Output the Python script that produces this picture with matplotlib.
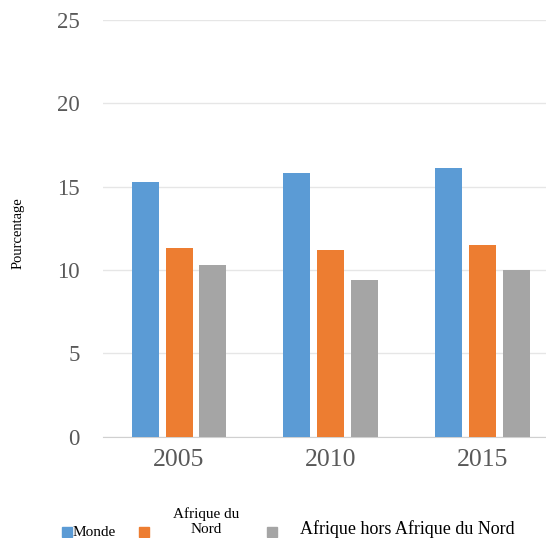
import numpy as np
import matplotlib.pyplot as plt
import matplotlib.patches as patches

# data
years = ['2005', '2010', '2015']
series_names = ['Monde', 'Afrique du\nNord', 'Afrique hors Afrique du Nord']
monde = [15.3, 15.8, 16.1]
afrique_nord = [11.3, 11.2, 11.5]
afrique_hors_nord = [10.3, 9.4, 10.0]
yticks = [0, 5, 10, 15, 20, 25]

colors = ['#5B9BD5', '#ED7D31', '#A5A5A5']

plt.rcParams['font.family'] = ['Liberation Serif', 'DejaVu Serif']

fig = plt.figure(figsize=(5.46, 5.38), dpi=100)
ax = fig.add_axes([0.189, 0.188, 0.811, 0.775])

x = np.arange(len(years))
width = 0.178
step = 0.224
for i, vals in enumerate([monde, afrique_nord, afrique_hors_nord]):
    ax.bar(x + (i - 1) * step, vals, width, color=colors[i], zorder=3)

ax.set_xlim(-0.5, 2.42)
ax.set_ylim(0, 25)
ax.set_yticks(yticks)
ax.set_yticklabels([str(t) for t in yticks])
ax.set_xticks(x)
ax.set_xticklabels(years)
ax.yaxis.grid(True, color='#E6E6E6', linewidth=1, zorder=0)
for s in ['top', 'right', 'left']:
    ax.spines[s].set_visible(False)
ax.spines['bottom'].set_color('#D0D0D0')
ax.tick_params(axis='y', length=0, pad=17, labelsize=16.5, labelcolor='#595959')
ax.tick_params(axis='x', length=0, pad=9, labelsize=18.5, labelcolor='#595959')

fig.text(0.034, 0.567, 'Pourcentage', rotation=90, ha='center', va='center',
         fontsize=10.5, color='black')

# legend drawn by hand along the bottom edge
sq = 10 / 546
sq_h = 10 / 538
legend_y = 1 - 537 / 538
marker_x = [62 / 546, 139 / 546, 267 / 546]
for mx, c in zip(marker_x, colors):
    fig.patches.append(patches.Rectangle((mx, legend_y), sq, sq_h, color=c,
                                         transform=fig.transFigure, figure=fig))
fig.text(73 / 546, legend_y - 0.004, series_names[0], fontsize=11,
         ha='left', va='bottom')
fig.text(206 / 546, 1 - 507 / 538, series_names[1], fontsize=11,
         ha='center', va='top', linespacing=1.25)
fig.text(300 / 546, legend_y - 0.002, series_names[2], fontsize=13,
         ha='left', va='bottom')

plt.savefig('out.png', dpi=100)
plt.close()
